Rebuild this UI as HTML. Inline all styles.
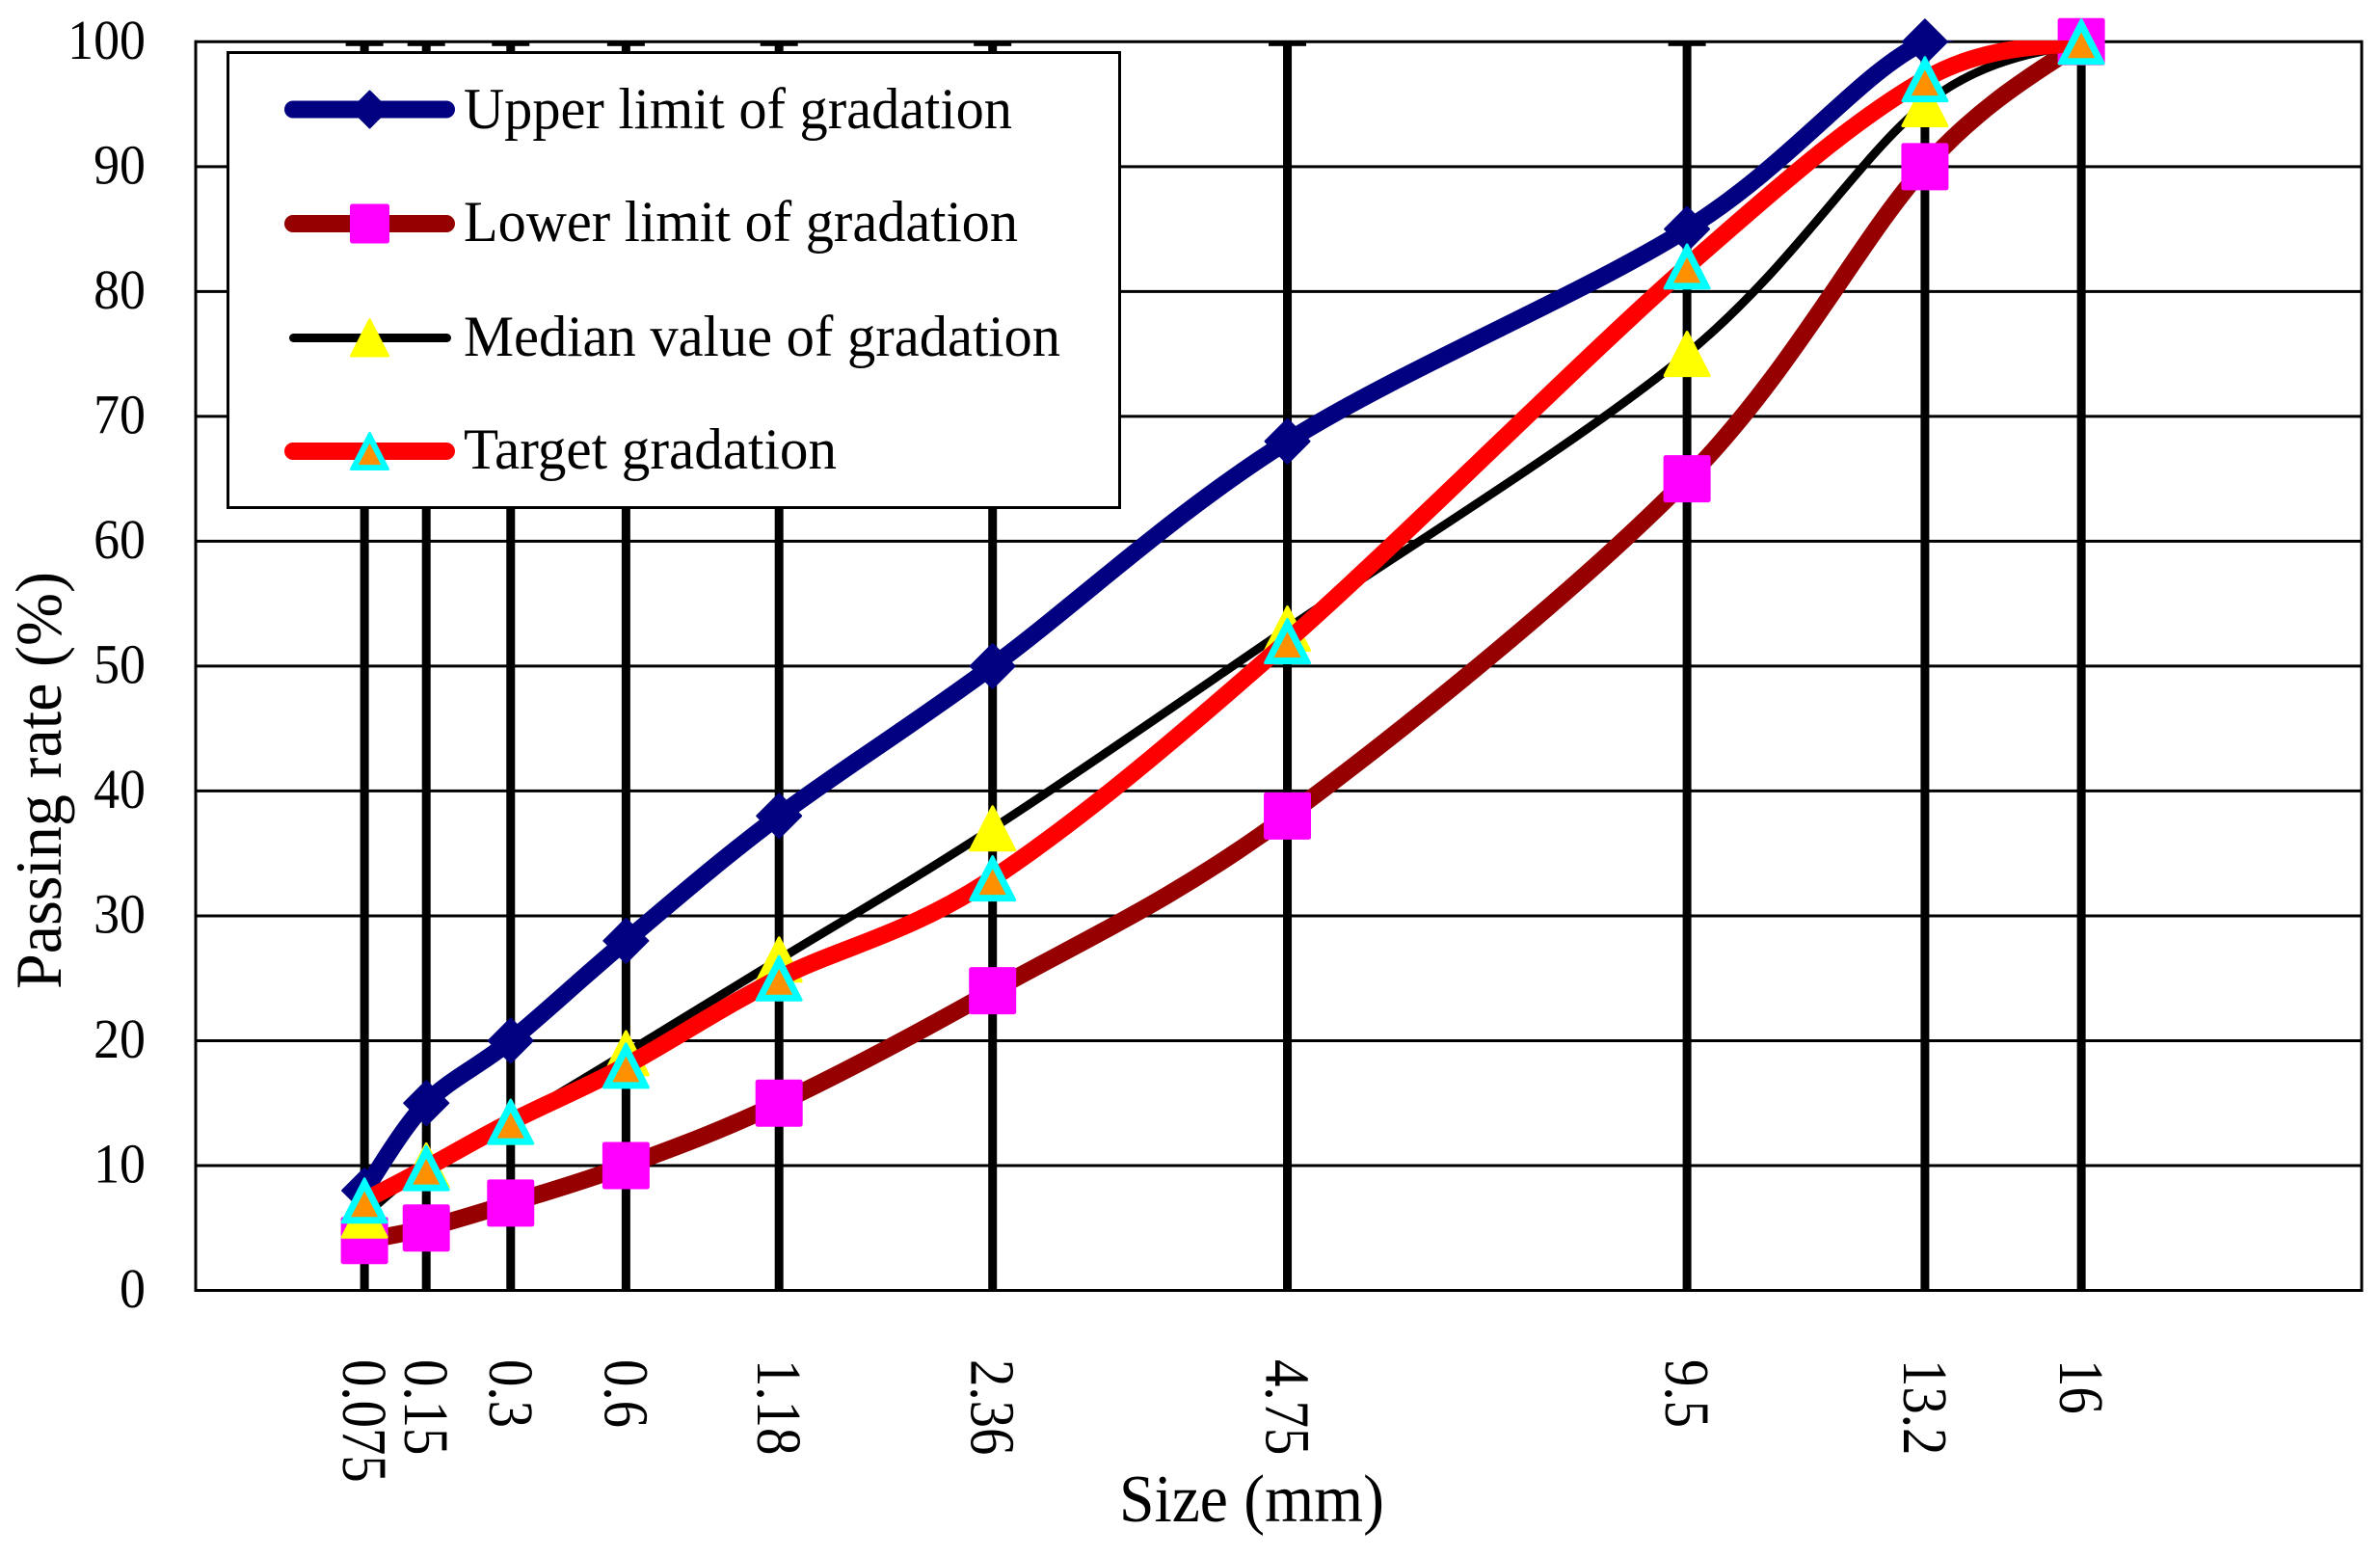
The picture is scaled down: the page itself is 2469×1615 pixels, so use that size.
<!DOCTYPE html>
<html>
<head>
<meta charset="utf-8">
<title>Gradation chart</title>
<style>
html,body{margin:0;padding:0;background:#fff;}
svg{display:block;}
text{font-family:"Liberation Serif",serif;fill:#000;}
</style>
</head>
<body>
<svg id="chart" xmlns="http://www.w3.org/2000/svg" width="2469" height="1615" viewBox="0 0 2469 1615">
  <rect x="0" y="0" width="2469" height="1615" fill="#fff"/>
  <defs>
    <clipPath id="plot-clip"><rect x="203" y="42" width="2247" height="1296"/></clipPath>
  </defs>
  <g id="grid"></g>
  <g id="series"></g>
  <g id="yticks"></g>
  <g id="xticks"></g>
  <text x="1161" y="1578" font-size="70" textLength="275" lengthAdjust="spacingAndGlyphs">Size (mm)</text>
  <text transform="translate(63,1026) rotate(-90)" x="0" y="0" font-size="68" textLength="433" lengthAdjust="spacingAndGlyphs">Passing rate (%)</text>
  <g id="legend">
    <rect x="236.5" y="54.5" width="925" height="472" fill="#fff" stroke="#000" stroke-width="3"/>
    <text x="481" y="133" font-size="60" textLength="569" lengthAdjust="spacingAndGlyphs">Upper limit of gradation</text>
    <text x="481" y="250" font-size="60" textLength="575" lengthAdjust="spacingAndGlyphs">Lower limit of gradation</text>
    <text x="481" y="369" font-size="60" textLength="619" lengthAdjust="spacingAndGlyphs">Median value of gradation</text>
    <text x="481" y="486" font-size="60" textLength="387" lengthAdjust="spacingAndGlyphs">Target gradation</text>
  </g>
</svg>
<script>
var sizeValues = [0.075, 0.15, 0.3, 0.6, 1.18, 2.36, 4.75, 9.5, 13.2, 16];
var sizeLabels = ["0.075", "0.15", "0.3", "0.6", "1.18", "2.36", "4.75", "9.5", "13.2", "16"];
var yTickLabels = [0, 10, 20, 30, 40, 50, 60, 70, 80, 90, 100];
var upperLimit = [8, 15, 20, 28, 38, 50, 68, 85, 100, 100];
var lowerLimit = [4, 5, 7, 10, 15, 24, 38, 65, 90, 100];
var medianValue = [6, 10, 13.5, 19, 26.5, 37, 53, 75, 95, 100];
var targetGradation = [7.2, 9.8, 13.5, 18, 25, 33, 52, 82, 97, 100];

var NS = "http://www.w3.org/2000/svg";
var PLOT = {left: 203, right: 2450, top: 43.3, bottom: 1338.5};

function xScale(d) {
  return PLOT.left + (Math.pow(d, 0.45) / 4) * (PLOT.right - PLOT.left);
}
function yScale(v) {
  return PLOT.bottom - (v / 100) * (PLOT.bottom - PLOT.top);
}
function make(tag, attrs, parent) {
  var el = document.createElementNS(NS, tag);
  for (var k in attrs) { el.setAttribute(k, attrs[k]); }
  parent.appendChild(el);
  return el;
}
function smoothPath(pts) {
  var d = "M" + pts[0][0] + " " + pts[0][1];
  for (var i = 0; i < pts.length - 1; i++) {
    var p0 = pts[Math.max(i - 1, 0)], p1 = pts[i], p2 = pts[i + 1], p3 = pts[Math.min(i + 2, pts.length - 1)];
    var c1x = p1[0] + (p2[0] - p0[0]) / 6, c1y = p1[1] + (p2[1] - p0[1]) / 6;
    var c2x = p2[0] - (p3[0] - p1[0]) / 6, c2y = p2[1] - (p3[1] - p1[1]) / 6;
    d += "C" + c1x + " " + c1y + " " + c2x + " " + c2y + " " + p2[0] + " " + p2[1];
  }
  return d;
}
function drawMarker(kind, cx, cy, r, parent) {
  var el;
  var pad = r / 24;
  if (kind === "diamond") {
    var rd = r - 1;
    el = make("polygon", {points: cx + "," + (cy - rd) + " " + (cx + rd) + "," + cy + " " + cx + "," + (cy + rd) + " " + (cx - rd) + "," + cy, fill: "#000080", stroke: "#000080", "stroke-width": 2, "stroke-linejoin": "round"}, parent);
    
    
  } else if (kind === "square") {
    el = make("rect", {x: cx - r - 0.5, y: cy - r - 0.5, width: 2 * r + 1, height: 2 * r + 1, rx: 2.5, fill: "#ff00ff"}, parent);
    
    
  } else if (kind === "triangle") {
    el = make("polygon", {points: cx + "," + (cy - r + 1.5) + " " + (cx + r - 1) + "," + (cy + r - 1.5) + " " + (cx - r + 1) + "," + (cy + r - 1.5), fill: "#ffff00", stroke: "#ffff00", "stroke-width": 3, "stroke-linejoin": "round"}, parent);
    
    
  } else {
    el = make("polygon", {points: cx + "," + (cy - r + 1.5) + " " + (cx + r - 1) + "," + (cy + r - 1.5) + " " + (cx - r + 1) + "," + (cy + r - 1.5), fill: "#00ffff", stroke: "#00ffff", "stroke-width": 3, "stroke-linejoin": "round"}, parent);
    
    
    var inner = make("polygon", {points: cx + "," + (cy - 9.7 * pad) + " " + (cx + 14 * pad) + "," + (cy + 17 * pad) + " " + (cx - 14 * pad) + "," + (cy + 17 * pad), fill: "#ff9000"}, parent);
    
    
  }
}

var gridLayer = document.getElementById("grid");
yTickLabels.forEach(function (t) {
  var y = yScale(t);
  var line = make("line", {x1: PLOT.left, x2: PLOT.right, y1: y, y2: y, stroke: "#000", "stroke-width": 3}, gridLayer);
  
  
});
var leftAxis = make("line", {x1: PLOT.left, x2: PLOT.left, y1: PLOT.top - 1.5, y2: PLOT.bottom + 1.5, stroke: "#000", "stroke-width": 3}, gridLayer);


var rightAxis = make("line", {x1: PLOT.right, x2: PLOT.right, y1: PLOT.top - 1.5, y2: PLOT.bottom + 1.5, stroke: "#000", "stroke-width": 3}, gridLayer);



sizeValues.forEach(function (d) {
  var x = xScale(d);
  var bar = make("line", {x1: x, x2: x, y1: PLOT.top, y2: PLOT.bottom, stroke: "#000", "stroke-width": 9}, gridLayer);
  
  
  var cap = make("rect", {x: x - 19.5, y: PLOT.top, width: 39, height: 4.5, fill: "#000"}, gridLayer);
  
  
});

var seriesDefs = [
  {name: "upper-limit", values: upperLimit, color: "#000080", width: 18, marker: "diamond", my: 113.5, mr: 20, lx1: 304, lx2: 463},
  {name: "lower-limit", values: lowerLimit, color: "#960000", width: 18, marker: "square", my: 232, mr: 20, lx1: 304, lx2: 463},
  {name: "median-value", values: medianValue, color: "#000000", width: 9, marker: "triangle", my: 350.5, mr: 20, lx1: 304.5, lx2: 463.5},
  {name: "target-gradation", values: targetGradation, color: "#ff0000", width: 18, marker: "target", my: 468, mr: 20, lx1: 304, lx2: 463}
];
var seriesLayer = document.getElementById("series");
var legendLayer = document.getElementById("legend");
seriesDefs.forEach(function (s) {
  var group = make("g", {}, seriesLayer);
  
  
  var pts = sizeValues.map(function (d, i) { return [xScale(d), yScale(s.values[i])]; });
  var path = make("path", {d: smoothPath(pts), fill: "none", stroke: s.color, "stroke-width": s.width, "stroke-linejoin": "round", "stroke-linecap": "round", "clip-path": "url(#plot-clip)"}, group);
  
  
  pts.forEach(function (p) { drawMarker(s.marker, p[0], p[1], 24, group); });

  var sample = make("line", {x1: s.lx1, x2: s.lx2, y1: s.my, y2: s.my, stroke: s.color, "stroke-width": s.width, "stroke-linecap": "round"}, legendLayer);
  
  
  drawMarker(s.marker, 383.5, s.my, s.mr, legendLayer);
});

var yTickLayer = document.getElementById("yticks");
yTickLabels.forEach(function (t) {
  var label = make("text", {transform: "translate(151," + (yScale(t) + 17.5) + ") scale(0.93,1)", "font-size": 58, "text-anchor": "end"}, yTickLayer);
  
  
  label.textContent = String(t);
});

var xTickLayer = document.getElementById("xticks");
sizeLabels.forEach(function (t, i) {
  var x = xScale(sizeValues[i]);
  var label = make("text", {transform: "translate(" + (x - 22) + ",1410) rotate(90) scale(0.86,1)", "font-size": 66}, xTickLayer);
  
  
  label.textContent = t;
});
</script>
</body>
</html>
